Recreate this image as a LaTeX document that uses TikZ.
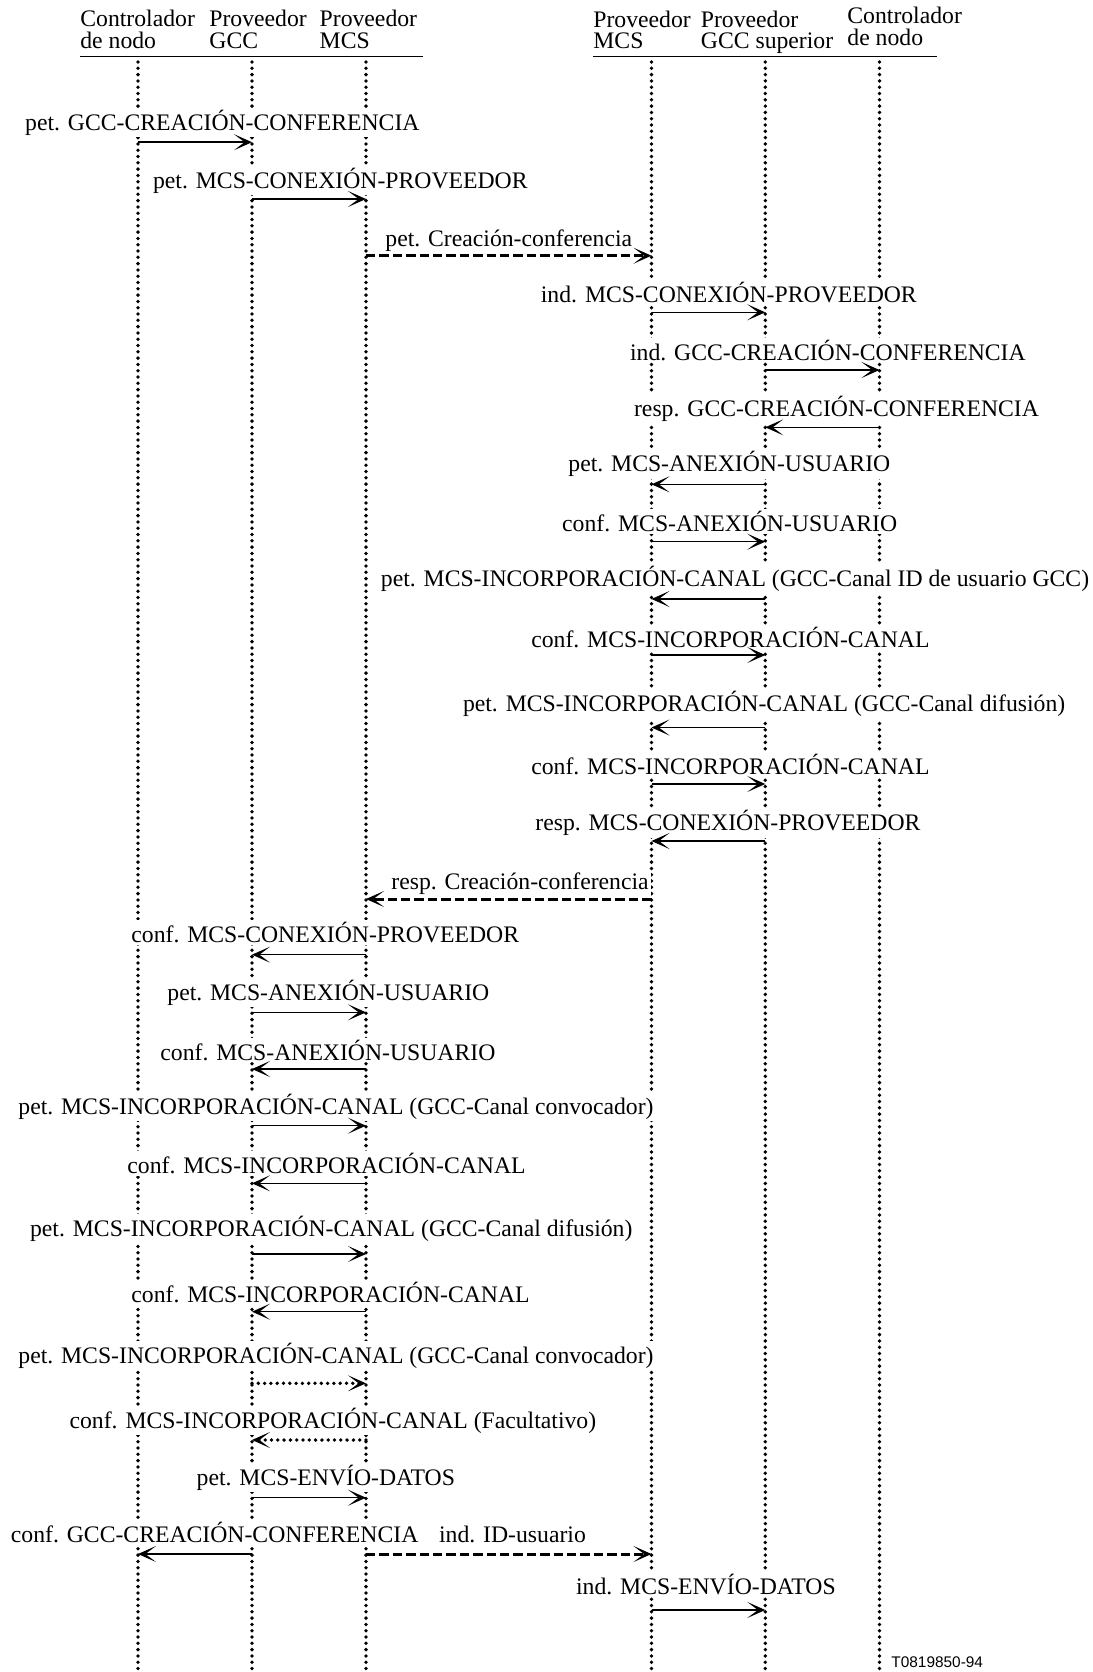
\documentclass[tikz,border=0pt]{standalone}
\usepackage{fontspec}
\setmainfont{Liberation Serif}
\newfontfamily\tagfont{Liberation Sans}
\usetikzlibrary{arrows.meta}

\tikzset{
  lifeline/.style={line width=1.9pt, dash pattern=on 0pt off 3.15pt, line cap=round},
  msg/.style={line width=0.75pt, -{Stealth[length=9pt, width=8pt, inset=5.3pt]}},
  dashmsg/.style={msg, line width=1.5pt, dash pattern=on 4.7pt off 2pt},
  dotmsg/.style={msg, line width=1.9pt, dash pattern=on 0pt off 3.15pt, line cap=round},
  lbl/.style={anchor=base west, inner sep=1pt, fill=white, font=\fontsize{11.85}{10.5}\selectfont},
  head/.style={anchor=base west, inner sep=0pt, align=left, font=\fontsize{11.85}{10.8}\selectfont},
}

\begin{document}
\begin{tikzpicture}[x=0.5pt, y=-0.5pt]
  \useasboundingbox (0,0) rectangle (1093,1672);

  % Headers
  \node[head] (hcn) at (80,48.3) {Controlador\\de nodo};
  \node[head] (hgcc) at (209,48.3) {Proveedor\\GCC};
  \node[head] (hmcs) at (319.3,48.3) {Proveedor\\MCS};
  \node[head] (rmcs) at (593,48.8) {Proveedor\\MCS};
  \node[head] (rgcc) at (700.5,48.8) {Proveedor\\GCC superior};
  \node[head] (rcn) at (847,45.5) {Controlador\\de nodo};
  \draw[line width=0.6pt] (80,56.7) -- (423,56.7);
  \draw[line width=0.6pt] (593,56.7) -- (937,56.7);

  % Lifelines
  \coordinate (l1) at (138,62);
  \coordinate (l2) at (252,62);
  \coordinate (l3) at (366,62);
  \coordinate (r1) at (651.5,62);
  \coordinate (r2) at (765.3,62);
  \coordinate (r3) at (879.5,62);
  \foreach \c in {l1,l2,l3,r1,r2,r3}
    \draw[lifeline] (\c) -- (\c |- 0,1672);

  % Conference creation, left side
  \node[lbl] (m1) at (22.8,130) {pet. GCC-CREACIÓN-CONFERENCIA};
  \draw[msg] (l1 |- 0,142.2) -- (l2 |- 0,142.2);
  \node[lbl] (m2) at (150.7,188.3) {pet. MCS-CONEXIÓN-PROVEEDOR};
  \draw[msg] (l2 |- 0,199) -- (l3 |- 0,199);
  \node[lbl] (m3) at (383,246.7) {pet. Creación-conferencia};
  \draw[dashmsg] (l3 |- 0,255.7) -- (r1 |- 0,255.7);

  % Top provider side
  \node[lbl] (m4) at (538.5,302.7) {ind. MCS-CONEXIÓN-PROVEEDOR};
  \draw[msg] (r1 |- 0,312.3) -- (r2 |- 0,312.3);
  \node[lbl] (m5) at (627.7,360) {ind. GCC-CREACIÓN-CONFERENCIA};
  \draw[msg] (r2 |- 0,370) -- (r3 |- 0,370);
  \node[lbl] (m6) at (631.7,416) {resp. GCC-CREACIÓN-CONFERENCIA};
  \draw[msg] (r3 |- 0,427.3) -- (r2 |- 0,427.3);
  \node[lbl] (m7) at (566,471.7) {pet. MCS-ANEXIÓN-USUARIO};
  \draw[msg] (r2 |- 0,484.3) -- (r1 |- 0,484.3);
  \node[lbl] (m8) at (559.8,531.7) {conf. MCS-ANEXIÓN-USUARIO};
  \draw[msg] (r1 |- 0,541.7) -- (r2 |- 0,541.7);
  \node[lbl] (m9) at (378.5,586.7) {pet. MCS-INCORPORACIÓN-CANAL (GCC-Canal ID de usuario GCC)};
  \draw[msg] (r2 |- 0,599) -- (r1 |- 0,599);
  \node[lbl] (m10) at (528.9,647.3) {conf. MCS-INCORPORACIÓN-CANAL};
  \draw[msg] (r1 |- 0,655) -- (r2 |- 0,655);
  \node[lbl] (m11) at (460.6,711.7) {pet. MCS-INCORPORACIÓN-CANAL (GCC-Canal difusión)};
  \draw[msg] (r2 |- 0,727.5) -- (r1 |- 0,727.5);
  \node[lbl] (m12) at (528.9,774) {conf. MCS-INCORPORACIÓN-CANAL};
  \draw[msg] (r1 |- 0,784) -- (r2 |- 0,784);
  \node[lbl] (m13) at (533,830.7) {resp. MCS-CONEXIÓN-PROVEEDOR};
  \draw[msg] (r2 |- 0,841) -- (r1 |- 0,841);
  \node[lbl] (m14) at (389,889) {resp. Creación-conferencia};
  \draw[dashmsg] (r1 |- 0,899) -- (l3 |- 0,899);

  % Back on the left side
  \node[lbl] (m15) at (129,942.5) {conf. MCS-CONEXIÓN-PROVEEDOR};
  \draw[msg] (l3 |- 0,954.7) -- (l2 |- 0,954.7);
  \node[lbl] (m16) at (165,1000) {pet. MCS-ANEXIÓN-USUARIO};
  \draw[msg] (l2 |- 0,1012.3) -- (l3 |- 0,1012.3);
  \node[lbl] (m17) at (158,1060) {conf. MCS-ANEXIÓN-USUARIO};
  \draw[msg] (l3 |- 0,1069) -- (l2 |- 0,1069);
  \node[lbl] (m18) at (16,1114) {pet. MCS-INCORPORACIÓN-CANAL (GCC-Canal convocador)};
  \draw[msg] (l2 |- 0,1125.7) -- (l3 |- 0,1125.7);
  \node[lbl] (m19) at (125,1173.3) {conf. MCS-INCORPORACIÓN-CANAL};
  \draw[msg] (l3 |- 0,1183.3) -- (l2 |- 0,1183.3);
  \node[lbl] (m20) at (27.7,1236.7) {pet. MCS-INCORPORACIÓN-CANAL (GCC-Canal difusión)};
  \draw[msg] (l2 |- 0,1254) -- (l3 |- 0,1254);
  \node[lbl] (m21) at (129,1302.7) {conf. MCS-INCORPORACIÓN-CANAL};
  \draw[msg] (l3 |- 0,1311.7) -- (l2 |- 0,1311.7);
  \node[lbl] (m22) at (16,1363.3) {pet. MCS-INCORPORACIÓN-CANAL (GCC-Canal convocador)};
  \draw[dotmsg] (l2 |- 0,1383.3) -- (l3 |- 0,1383.3);
  \node[lbl] (m23) at (67.2,1428) {conf. MCS-INCORPORACIÓN-CANAL (Facultativo)};
  \draw[dotmsg] (l3 |- 0,1440) -- (l2 |- 0,1440);
  \node[lbl] (m24) at (194.3,1485) {pet. MCS-ENVÍO-DATOS};
  \draw[msg] (l2 |- 0,1497.7) -- (l3 |- 0,1497.7);
  \node[lbl] (m25) at (8.5,1542.7) {conf. GCC-CREACIÓN-CONFERENCIA};
  \draw[msg] (l2 |- 0,1554) -- (l1 |- 0,1554);
  \node[lbl] (m26) at (436.7,1542.7) {ind. ID-usuario};
  \draw[dashmsg] (l3 |- 0,1554) -- (r1 |- 0,1554);
  \node[lbl] (m27) at (573.7,1594) {ind. MCS-ENVÍO-DATOS};
  \draw[msg] (r1 |- 0,1610) -- (r2 |- 0,1610);

  \node[anchor=base west, inner sep=0pt, font=\tagfont\fontsize{7.7}{9}\selectfont] (tag) at (891,1667) {T0819850-94};
\end{tikzpicture}
\end{document}
